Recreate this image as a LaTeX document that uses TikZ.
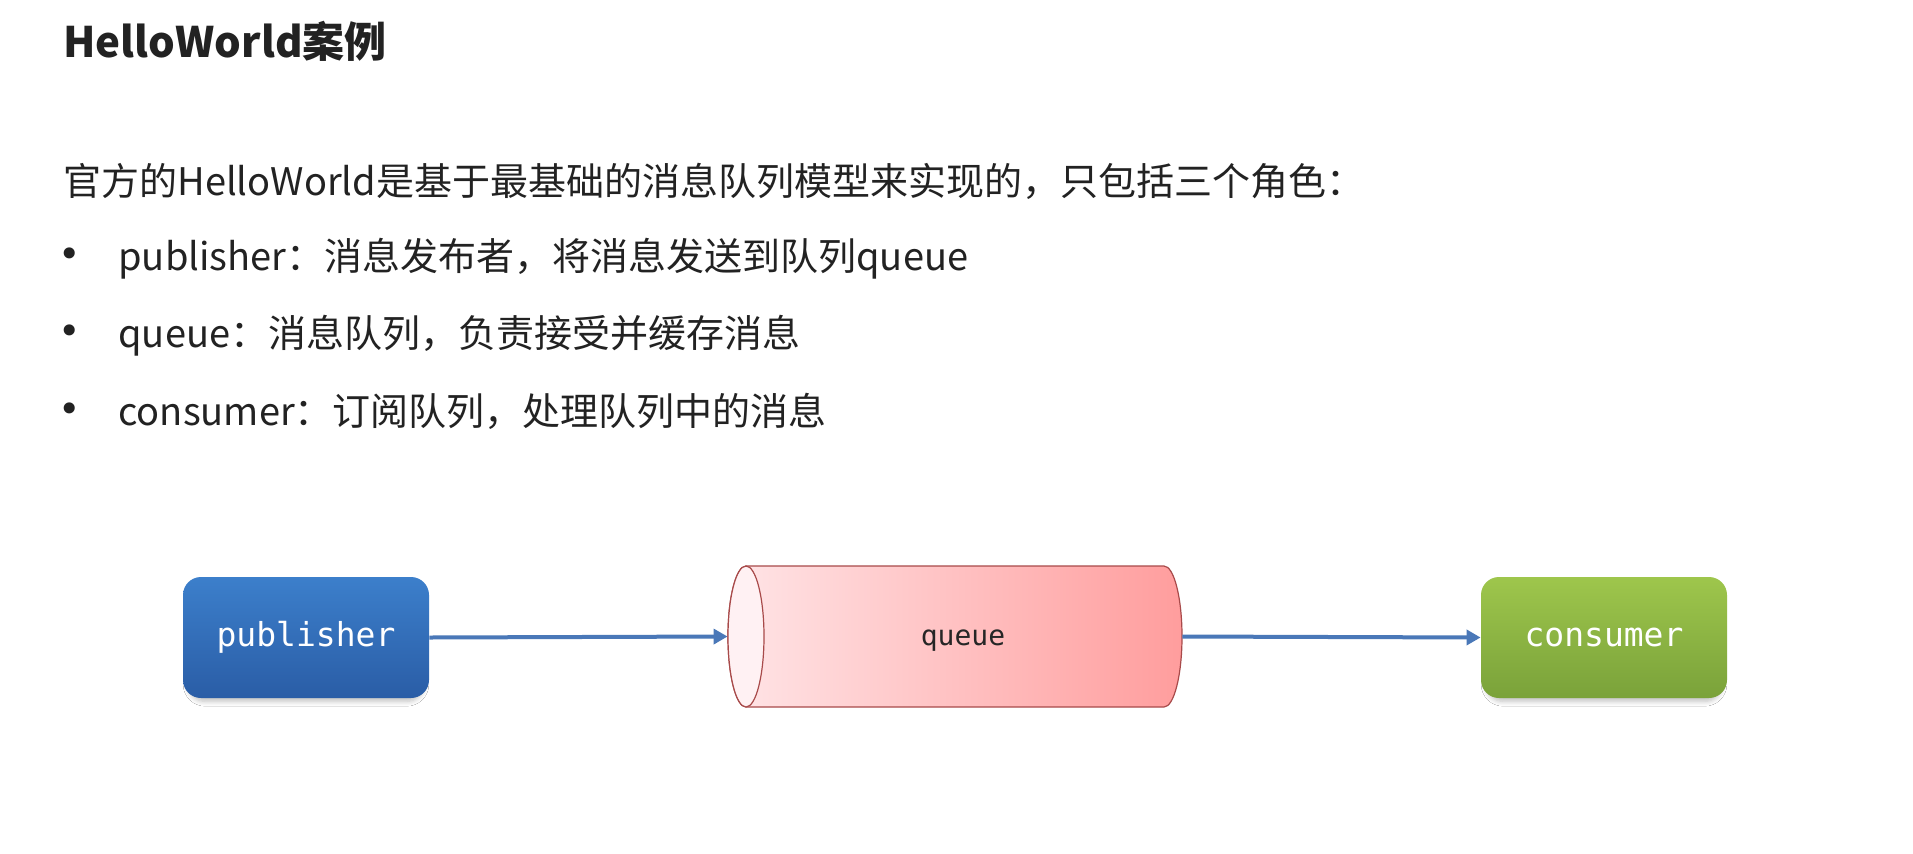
\documentclass[tikz,border=0pt]{standalone}
\usepackage{fontspec}
\setmainfont{Noto Sans CJK SC}
\newfontfamily\boxfont{DejaVu Sans Mono}
\newfontfamily\bulletfont{DejaVu Sans}
\usetikzlibrary{arrows.meta,shadows.blur}
\definecolor{txt}{HTML}{222222}
\definecolor{pubtop}{HTML}{3C7FCB}
\definecolor{pubbot}{HTML}{2A5DA6}
\definecolor{contop}{HTML}{9EC64C}
\definecolor{conbot}{HTML}{7AA23A}
\definecolor{qleft}{HTML}{FFE5E7}
\definecolor{qright}{HTML}{FF9D9D}
\definecolor{qface}{HTML}{FFF1F3}
\definecolor{qedge}{HTML}{A84A4A}
\definecolor{arrowc}{HTML}{4A78B8}
\tikzset{
  bodytext/.style={anchor=base west, inner sep=0pt, text=txt, font=\fontsize{19}{23}\selectfont},
  bulletmark/.style={anchor=base, inner sep=0pt, text=txt, font=\bulletfont\fontsize{19}{23}\selectfont},
  rolebox/.style={rounded corners=9pt, minimum width=123pt, minimum height=60.5pt, inner sep=0pt,
    text=white, font=\boxfont\fontsize{16.5}{20}\selectfont,
    blur shadow={shadow xshift=0pt, shadow yshift=-3pt, shadow opacity=25, shadow blur radius=2.5pt, shadow blur steps=6, shadow scale=0.96}},
  flow/.style={draw=arrowc, line width=2pt, -{Triangle[length=7pt,width=7.5pt]}},
}
\begin{document}
\begin{tikzpicture}[x=0.5pt,y=-0.5pt]
\useasboundingbox (0,0) rectangle (1913,853);
\fill[white] (0,0) rectangle (1913,853);

\node[anchor=base west, inner sep=0pt, text=txt, font=\fontsize{21}{25}\selectfont\bfseries] (title) at (63,57) {HelloWorld案例};

\node[bodytext] (intro) at (63,195) {官方的HelloWorld是基于最基础的消息队列模型来实现的，只包括三个角色：};
\node[bulletmark] (b1) at (70,267) {•};
\node[bodytext] (l1) at (118,270) {publisher：消息发布者，将消息发送到队列queue};
\node[bulletmark] (b2) at (70,344) {•};
\node[bodytext] (l2) at (118,347) {queue：消息队列，负责接受并缓存消息};
\node[bulletmark] (b3) at (70,422) {•};
\node[bodytext] (l3) at (118,425) {consumer：订阅队列，处理队列中的消息};

% publisher
\node[rolebox, top color=pubtop, bottom color=pubbot] (pub) at (306,637.5) {publisher};
% consumer
\node[rolebox, top color=contop, bottom color=conbot] (con) at (1604,637.5) {consumer};

% queue cylinder
\path[left color=qleft, right color=qright, draw=qedge, line width=0.6pt]
  (746,566) -- (1164,566) arc[start angle=90, end angle=-90, x radius=9pt, y radius=35.25pt]
  -- (746,707) arc[start angle=270, end angle=90, x radius=9pt, y radius=35.25pt] -- cycle;
\draw[qedge, fill=qface, line width=0.6pt] (746,636.5) ellipse [x radius=9pt, y radius=35.25pt];
\node[minimum width=227pt, minimum height=70.5pt, inner sep=0pt] (queue) at (955,636.5) {};
\node[inner sep=0pt, text=black!85, font=\boxfont\fontsize{14}{17}\selectfont] (qlabel) at (963,641) {queue};

\draw[flow] (pub.east) -- (queue.west);
\draw[flow] (queue.east) -- (con.west);
\end{tikzpicture}
\end{document}
